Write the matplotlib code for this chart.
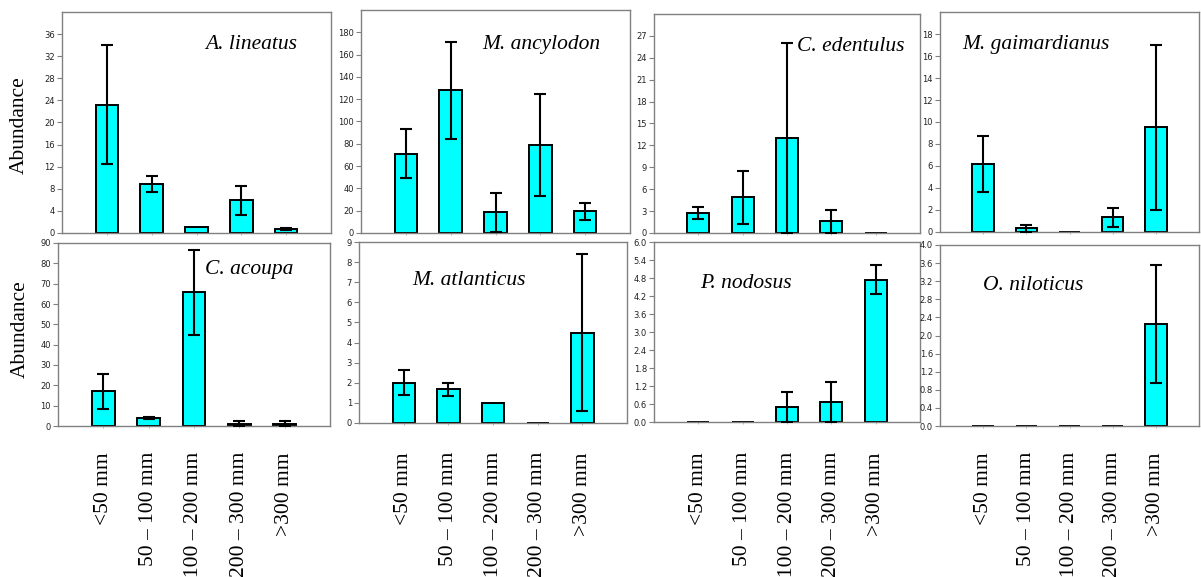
import matplotlib
matplotlib.use('Agg')
import matplotlib.pyplot as plt
import numpy as np

# ---------------- data ----------------
size_classes = ['<50 mm', '50 – 100 mm', '100 – 200 mm', '200 – 300 mm', '>300 mm']

species = ['A. lineatus', 'M. ancylodon', 'C. edentulus', 'M. gaimardianus',
           'C. acoupa', 'M. atlanticus', 'P. nodosus', 'O. niloticus']

a_lineatus_mean = [23.2, 8.9, 1.0, 5.9, 0.7]
a_lineatus_err = [10.8, 1.5, 0.0, 2.65, 0.2]

m_ancylodon_mean = [71.0, 128.0, 18.8, 78.7, 19.4]
m_ancylodon_err = [22.0, 43.7, 17.5, 45.9, 7.5]

c_edentulus_mean = [2.72, 4.9, 13.0, 1.6, 0.0]
c_edentulus_err = [0.82, 3.6, 13.0, 1.6, 0.0]

m_gaimardianus_mean = [6.17, 0.33, 0.0, 1.33, 9.5]
m_gaimardianus_err = [2.52, 0.33, 0.0, 0.87, 7.53]

c_acoupa_mean = [17.0, 3.8, 65.8, 1.2, 1.1]
c_acoupa_err = [8.5, 0.6, 21.0, 1.2, 1.2]

m_atlanticus_mean = [2.0, 1.67, 1.0, 0.0, 4.5]
m_atlanticus_err = [0.63, 0.33, 0.0, 0.0, 3.88]

p_nodosus_mean = [0.0, 0.0, 0.5, 0.67, 4.75]
p_nodosus_err = [0.0, 0.0, 0.5, 0.67, 0.48]

o_niloticus_mean = [0.0, 0.0, 0.0, 0.0, 2.25]
o_niloticus_err = [0.0, 0.0, 0.0, 0.0, 1.31]

means = [a_lineatus_mean, m_ancylodon_mean, c_edentulus_mean, m_gaimardianus_mean,
         c_acoupa_mean, m_atlanticus_mean, p_nodosus_mean, o_niloticus_mean]
errs = [a_lineatus_err, m_ancylodon_err, c_edentulus_err, m_gaimardianus_err,
        c_acoupa_err, m_atlanticus_err, p_nodosus_err, o_niloticus_err]

# y-axis: (max of axis, tick step, number of labelled ticks, decimals)
y_axes = [(40, 4, 10, 0), (200, 20, 10, 0), (30, 3, 10, 0), (20, 2, 10, 0),
          (90, 10, 10, 0), (9, 1, 10, 0), (6.0, 0.6, 11, 1), (4.0, 0.4, 11, 1)]

# ---------------- layout ----------------
W, H = 1201, 577
fig = plt.figure(figsize=(W / 100, H / 100), dpi=100)
fig.patch.set_facecolor('white')

# axes rectangles in pixels: left, right, top, bottom
rects = [(62, 331, 12, 233), (361, 630, 10, 233), (654, 920, 14, 233), (940, 1199, 12, 232),
         (58, 330, 243, 426), (359, 627, 242, 423), (654, 920, 242, 422), (940, 1199, 245, 426)]

# title positions (left x, baseline y) in pixels
title_pos = [(205, 49), (482, 49), (797, 51), (962, 49),
             (205, 274), (412, 285), (700, 288), (983, 290)]

label_top_px = 452
tick_len = 1.5

serif = ['Liberation Serif', 'DejaVu Serif']
spine_col = '#808080'
x = np.arange(len(size_classes))

for i in range(8):
    l, r, t, b = rects[i]
    ax = fig.add_axes([l / W, 1 - b / H, (r - l) / W, (b - t) / H])
    m = np.array(means[i])
    e = np.array(errs[i])
    ax.bar(x, m, width=0.5, color='#00FFFF', edgecolor='black', linewidth=1.4, zorder=2)
    mask = e > 0
    ax.errorbar(x[mask], m[mask], yerr=e[mask], fmt='none', ecolor='black',
                elinewidth=1.5, capsize=4.6, capthick=1.5, zorder=3)
    ax.set_xlim(-1, 5)
    ymax, step, n, dec = y_axes[i]
    ax.set_ylim(0, ymax)
    ticks = [k * step for k in range(n)]
    ax.set_yticks(ticks)
    ax.set_yticklabels([f'{v:.{dec}f}' for v in ticks])
    for s in ax.spines.values():
        s.set_color(spine_col)
        s.set_linewidth(1.0)
    ax.tick_params(axis='y', direction='out', length=3.6, width=0.8, color=spine_col,
                   pad=1.5, labelsize=6, labelcolor='#222222')
    ax.set_xticks(x)
    if i >= 4:
        ax.set_xticklabels(size_classes, rotation=90, fontsize=15.5, family=serif)
        pad = (label_top_px - b) * 72 / 100 - tick_len
        ax.tick_params(axis='x', direction='out', length=tick_len, width=0.6,
                       color='#b0b0b0', pad=pad)
    else:
        ax.tick_params(axis='x', direction='out', length=tick_len, width=0.6,
                       color='#b0b0b0', labelbottom=False)
    tx, ty = title_pos[i]
    fig.text(tx / W, 1 - ty / H, species[i], fontsize=15.5, style='italic', family=serif,
             ha='left', va='baseline')

fig.text(19 / W, 1 - 125 / H, 'Abundance', rotation=90, fontsize=15.5, family=serif,
         ha='center', va='center')
fig.text(20 / W, 1 - 329 / H, 'Abundance', rotation=90, fontsize=15.5, family=serif,
         ha='center', va='center')

fig.savefig('out.png', dpi=100, facecolor='white')
